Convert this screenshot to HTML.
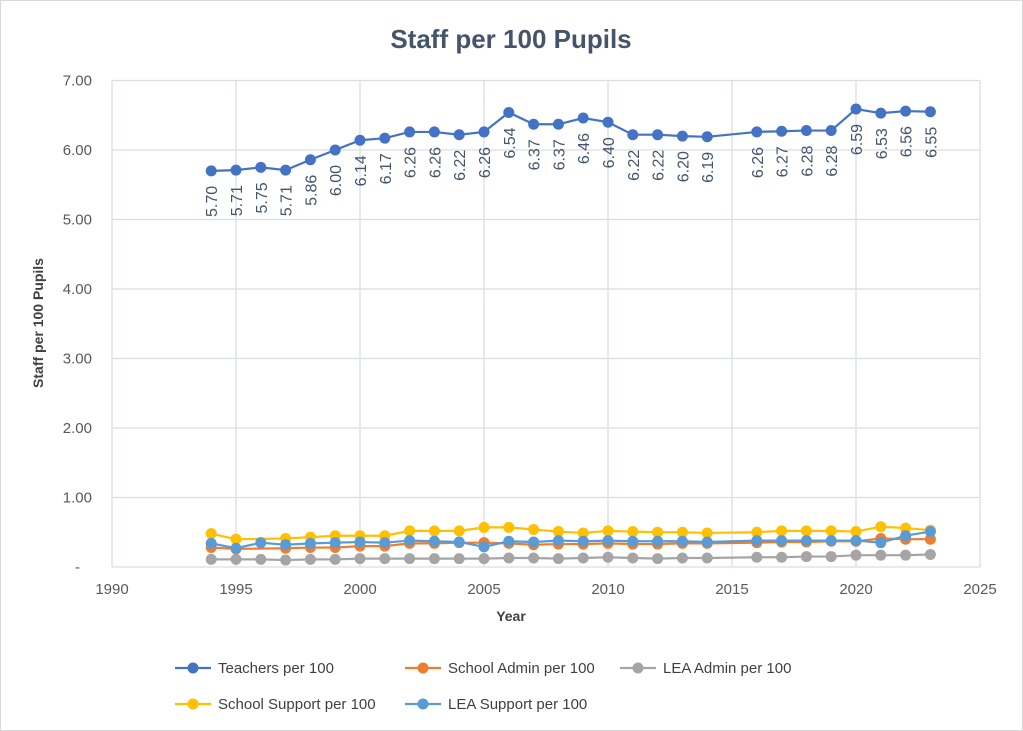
<!DOCTYPE html>
<html><head><meta charset="utf-8"><style>
body{margin:0;background:#fff}
svg{display:block;font-family:"Liberation Sans",sans-serif}
</style></head><body>
<svg width="1023" height="731" viewBox="0 0 1023 731" xmlns="http://www.w3.org/2000/svg">
<rect x="0.5" y="0.5" width="1022" height="730" fill="#fff" stroke="#d9d9d9"/>
<text x="511" y="48" text-anchor="middle" font-size="26" font-weight="bold" fill="#44546a">Staff per 100 Pupils</text>
<g id="grid" stroke="#d9dde6" stroke-width="1.3"></g>
<g id="axis" font-size="15" fill="#595959"></g>
<text x="511" y="621" text-anchor="middle" font-size="14" font-weight="bold" fill="#404040">Year</text>
<text transform="translate(43,323) rotate(-90)" text-anchor="middle" font-size="14" font-weight="bold" fill="#404040">Staff per 100 Pupils</text>
<g id="series"></g>
<g id="labels" font-size="16" fill="#44546a"></g>
<g id="legend" font-size="15" fill="#404040"></g>
<script>
const NS="http://www.w3.org/2000/svg";
function el(p,t,a,txt){const e=document.createElementNS(NS,t);for(const k in a)e.setAttribute(k,a[k]);if(txt!=null)e.textContent=txt;document.getElementById(p).appendChild(e);return e;}
const X=y=>112+(y-1990)*24.8, Y=v=>567-69.5*v;
for(let v=1;v<=7;v++) el('grid','line',{x1:112,x2:980,y1:Y(v),y2:Y(v)});
for(let y=1995;y<=2025;y+=5) el('grid','line',{x1:X(y),x2:X(y),y1:Y(7),y2:Y(0)});
el('grid','line',{x1:112,x2:112,y1:Y(7),y2:Y(0)});
el('grid','line',{x1:112,x2:980,y1:Y(0),y2:Y(0)});
for(let v=1;v<=7;v++) el('axis','text',{x:92,y:Y(v)+5,'text-anchor':'end'},v.toFixed(2));
el('axis','text',{x:80,y:Y(0)+5,'text-anchor':'end'},'-');
for(let y=1990;y<=2025;y+=5) el('axis','text',{x:X(y),y:594,'text-anchor':'middle'},y);
const yrs=[];for(let y=1994;y<=2023;y++)if(y!=2015)yrs.push(y);
const T=[5.70,5.71,5.75,5.71,5.86,6.00,6.14,6.17,6.26,6.26,6.22,6.26,6.54,6.37,6.37,6.46,6.40,6.22,6.22,6.20,6.19,6.26,6.27,6.28,6.28,6.59,6.53,6.56,6.55];
const SS=[0.48,0.40,null,0.41,0.43,0.45,0.45,0.45,0.52,0.52,0.52,0.57,0.57,0.54,0.51,0.49,0.52,0.51,0.50,0.50,0.49,0.50,0.52,0.52,0.52,0.51,0.58,0.56,0.53];
const SA=[0.28,0.26,null,0.27,0.28,0.28,0.30,0.30,0.34,0.34,0.35,0.35,0.34,0.32,0.33,0.33,0.34,0.33,0.33,0.34,0.34,0.35,0.36,0.36,0.37,0.37,0.41,0.40,0.40];
const LA=[0.11,0.11,0.11,0.10,0.11,0.11,0.12,0.12,0.12,0.12,0.12,0.12,0.13,0.13,0.12,0.13,0.14,0.13,0.12,0.13,0.13,0.14,0.14,0.15,0.15,0.17,0.17,0.17,0.18];
const LS=[0.34,0.27,0.35,0.32,0.34,0.35,0.36,0.35,0.38,0.37,0.36,0.29,0.37,0.36,0.38,0.37,0.38,0.37,0.37,0.37,0.36,0.38,0.38,0.38,0.38,0.38,0.35,0.45,0.51];
function series(d,c){let pts=[];d.forEach((v,i)=>{if(v==null)return;pts.push(X(yrs[i])+','+Y(v));});
el('series','polyline',{points:pts.join(' '),fill:'none',stroke:c,'stroke-width':2.2});
d.forEach((v,i)=>{if(v!=null)el('series','circle',{cx:X(yrs[i]),cy:Y(v),r:5.5,fill:c});});}
series(LA,'#a5a5a5');series(SA,'#ed7d31');series(SS,'#ffc000');series(LS,'#5b9bd5');series(T,'#4472c4');
T.forEach((v,i)=>{const x=X(yrs[i])+6,y=Y(v)+15;el('labels','text',{transform:`translate(${x},${y}) rotate(-90)`,'text-anchor':'end'},v.toFixed(2));});
const L=[[175,668,'#4472c4','Teachers per 100'],[405,668,'#ed7d31','School Admin per 100'],[620,668,'#a5a5a5','LEA Admin per 100'],[175,704,'#ffc000','School Support per 100'],[405,704,'#5b9bd5','LEA Support per 100']];
L.forEach(([x,y,c,t])=>{el('legend','line',{x1:x,x2:x+36,y1:y,y2:y,stroke:c,'stroke-width':2.2});el('legend','circle',{cx:x+18,cy:y,r:5.5,fill:c});el('legend','text',{x:x+43,y:y+5},t);});
</script>
</svg>
</body></html>
